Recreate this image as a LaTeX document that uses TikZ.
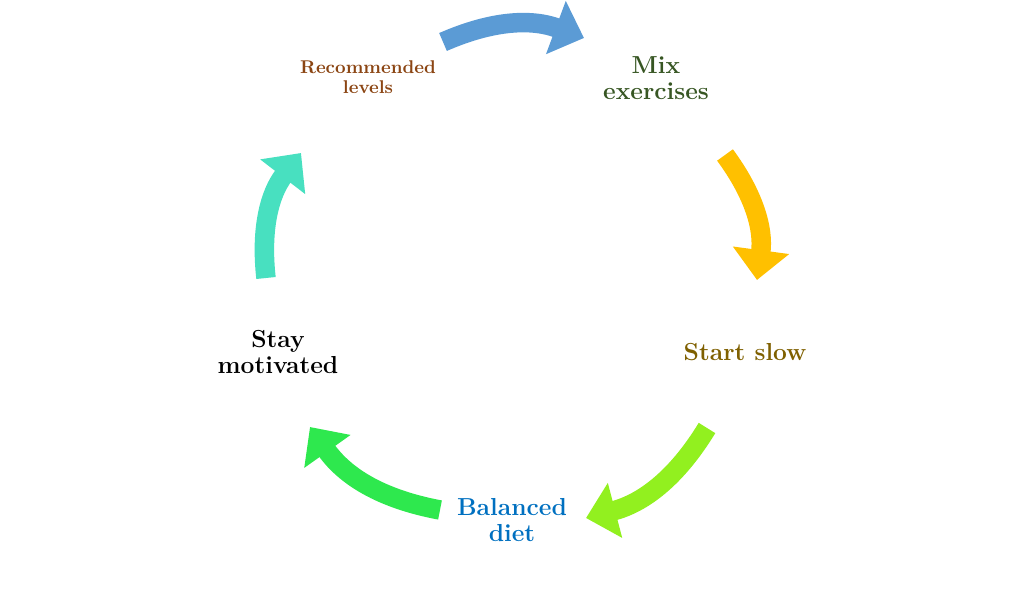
\documentclass[tikz,border=0pt]{standalone}
\usepackage{tikz}
\usetikzlibrary{arrows.meta,positioning}
\definecolor{cblue}{HTML}{5B9BD5}
\definecolor{cyellow}{HTML}{FFC000}
\definecolor{clime}{HTML}{92F01F}
\definecolor{cgreen}{HTML}{2EE84E}
\definecolor{cteal}{HTML}{48E0C0}
\definecolor{tbrown}{HTML}{8B4513}
\definecolor{tgreen}{HTML}{375623}
\definecolor{tolive}{HTML}{7F6000}
\definecolor{tblue}{HTML}{0070C0}
\begin{document}
\begin{tikzpicture}[x=0.02cm,y=-0.02cm,
  stage/.style={font=\bfseries\fontsize{14}{15}\selectfont,align=center},
  flow/.style={line width=3.9mm,-{Triangle[length=6mm,width=11mm]},bend left=22}]
  \useasboundingbox (0,0) rectangle (1024,597);

  % stages
  \node[stage,text=tbrown,font=\bfseries\fontsize{10.5}{11}\selectfont] (lev) at (368,77) {Recommended\\levels};
  \node[stage,text=tgreen] (mix) at (656,78) {Mix\\exercises};
  \node[stage,text=tolive] (slow) at (745,352) {Start slow};
  \node[stage,text=tblue] (diet) at (512,520) {Balanced\\diet};
  \node[stage] (stay) at (278,352) {Stay\\motivated};

  % arrow ends
  \coordinate (b1) at (443,42);  \coordinate (b2) at (584,38);
  \coordinate (y1) at (725,155); \coordinate (y2) at (757,280);
  \coordinate (l1) at (707,428); \coordinate (l2) at (586,518);
  \coordinate (g1) at (440,510); \coordinate (g2) at (310,427);
  \coordinate (t1) at (266,278); \coordinate (t2) at (301,153);

  \draw[flow,cblue] (b1) to (b2);
  \draw[flow,cyellow] (y1) to (y2);
  \draw[flow,clime] (l1) to (l2);
  \draw[flow,cgreen] (g1) to (g2);
  \draw[flow,cteal] (t1) to (t2);
\end{tikzpicture}
\end{document}
